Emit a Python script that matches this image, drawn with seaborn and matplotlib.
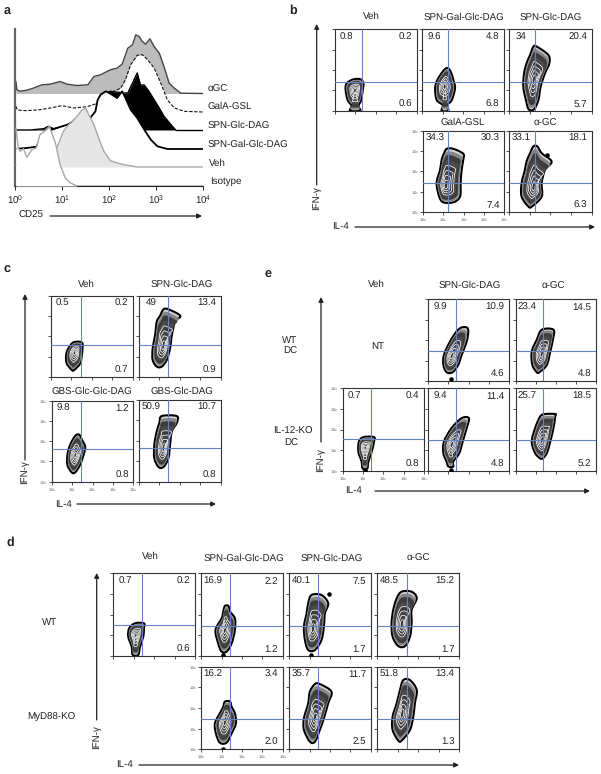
import matplotlib
matplotlib.use("Agg")
import matplotlib.pyplot as plt
from matplotlib.patches import PathPatch
from matplotlib.path import Path
import numpy as np
import seaborn as sns

# panel a histograms: log10 CD25 and height above each curve's own baseline
agc_x = [.02, .04, .11, .25, .39, .57, .75, .96, 1.11, 1.32, 1.55, 1.68, 1.82, 2.03, 2.17, 2.28, 2.40, 2.50,
         2.57, 2.64, 2.71, 2.78, 2.87, 2.96, 3.07, 3.17, 3.28, 3.39, 3.53, 3.99]
agc_y = [12, 3.7, 2.3, 3.3, 5.3, 8.7, 9.3, 12, 9.3, 8, 8.7, 17, 18.7, 23.7, 25.3, 29.3, 45.3, 48.7,
         58.7, 57, 52, 49.3, 54.7, 47, 40.3, 27, 10.3, 5.3, .3, 0]
gala_x = [.02, .05, .25, .53, .75, 1, 1.25, 1.53, 1.73, 1.82, 2.03, 2.25, 2.35, 2.46, 2.60, 2.71, 2.82, 2.96,
          3.10, 3.24, 3.39, 3.6, 3.99]
gala_y = [5.7, 2, 1.3, 2.3, 4, 6.3, 4, 5.3, 8.3, 15.7, 19, 24, 32.3, 47.3, 56.7, 57.3, 52.3, 44,
          29, 12.3, 4, .7, 0]
glc_x = [.04, .32, .61, .71, .82, 1.03, 1.14, 1.32, 1.6, 1.73, 1.85, 2.03, 2.32, 2.4, 2.5, 2.6, 2.67, 2.75,
         2.85, 2.96, 3.07, 3.17, 3.32, 3.42]
glc_y = [0, 0, 1.3, 3.7, 1.3, 3.7, 5.3, 8.7, 7, 18.7, 35.3, 38.7, 37, 37, 47, 57, 45, 45,
         38.7, 30.3, 22, 13.7, 5.3, 0]
galglc_x = [.04, .25, .45, .68, .89, 1.11, 1.32, 1.6, 1.71, 1.76, 1.82, 1.93, 2.03, 2.17, 2.28, 2.35, 2.46, 2.6,
            2.75, 2.89, 3.03, 3.24, 3.99]
galglc_y = [.3, 1, 2.3, 17.7, 21, 24.3, 29.3, 31, 37.7, 49.3, 54.3, 57.7, 55.3, 51, 57.7, 51, 39.3, 31,
            19.3, 9.3, 2.7, 0, 0]
veh_x = [.02, .32, .61, .86, .96, 1.03, 1.14, 1.32, 1.43, 1.5, 1.57, 1.68, 1.78, 1.89, 2.03, 2.25, 2.6, 3.99]
veh_y = [2, 2, 9, 15.7, 27.3, 35.7, 42.3, 50.7, 57.3, 59, 52.3, 42.3, 29, 15.7, 6.3, 3, 0, 0]
iso_x = [.02, .07, .11, .18, .25, .36, .45, .53, .64, .73, .86, .96, 1.07, 1.18, 1.32, 3.99]
iso_y = [58, 38, 34.7, 37.3, 28.7, 36.3, 38, 51.3, 55.3, 59.7, 43, 21.3, 8, 3, 0, 0]
hist_names = ["\u03b1GC", "GalA-GSL", "SPN-Glc-DAG", "SPN-Gal-Glc-DAG", "Veh", "Isotype"]

# contour outlines: (IFN-g decade, left IL-4 decade, right IL-4 decade)
b_veh = ([0, .23, .52, 1.02, 1.34, 1.54], [.74, .82, .62, .52, .57, .9], [1.23, 1.15, 1.28, 1.36, 1.39, 1.26])
b_galglc = ([0, .28, .52, 1.1, 1.51, 1.92, 2.08], [.96, 1.01, .72, .64, .75, 1.01, 1.17], [1.28, 1.24, 1.45, 1.61, 1.53, 1.40, 1.28])
b_glc = ([.07, .52, 1.18, 1.84, 2.33, 2.74, 3.15], [.95, .82, .69, .73, .85, 1.02, 1.18], [1.21, 1.42, 1.53, 1.74, 1.95, 1.90, 1.34])
b_gala = ([.49, .77, 1.43, 2.08, 2.57, 2.87, 3.11], [.99, .79, .66, .83, .91, 1.02, 1.16], [1.49, 1.82, 1.85, 1.90, 1.98, 1.98, 1.49])
b_agc = ([.28, .77, 1.43, 2.08, 2.49, 2.9, 3.23], [.94, .61, .61, .77, .85, 1.02, 1.18], [1.10, 1.58, 1.58, 1.74, 2.06, 1.58, 1.37])
b_peaks = [(.98, 1.0), (1.1, 1.2), (1.2, 1.5), (1.1, 1.3), (1.2, 1.2)]
b_vlines = [1.3, 1.27, 1.27, 1.24, 1.27]
b_hlines = [1.43, 1.43, 1.43, 1.42, 1.42]
b_pcts = [("0.8", "0.2", "0.6"), ("9.6", "4.8", "6.8"), ("34", "20.4", "5.7"), ("34.3", "30.3", "7.4"), ("33.1", "18.1", "6.3")]

c_veh = ([.33, .66, 1.07, 1.40, 1.70], [1.02, .77, .74, .85, 1.10], [1.13, 1.43, 1.51, 1.54, 1.51])
c_glc = ([.5, .83, 1.40, 2.07, 2.73, 3.02, 3.34], [.87, .67, .67, .79, .87, 1.03, 1.20], [1.11, 1.36, 1.52, 1.61, 1.77, 2.02, 1.44])
c_gbs2 = ([.46, .83, 1.32, 1.73, 2.07, 2.31], [.98, .77, .77, .87, 1.03, 1.2], [1.15, 1.39, 1.56, 1.64, 1.48, 1.36])
c_gbs1 = ([.72, 1.15, 1.8, 2.46, 2.87, 3.2], [.95, .75, .75, .87, 1.0, 1.11], [1.2, 1.44, 1.52, 1.61, 1.85, 1.85])
c_peaks = [(1.15, 1.2), (1.2, 1.5), (1.15, 1.3), (1.2, 1.6)]
c_vlines = [1.46, 1.41, 1.44, 1.41]
c_hlines = [1.59, 1.55, 1.6, 1.64]
c_pcts = [("0.5", "0.2", "0.7"), ("49", "13.4", "0.9"), ("9.8", "1.2", "0.8"), ("50.9", "10.7", "0.8")]

e_glc_wt = ([.43, .79, 1.28, 1.93, 2.43, 2.62], [.91, .75, .78, 1.08, 1.41, 1.66], [1.21, 1.49, 1.66, 1.91, 1.99, 1.91])
e_agc_wt = ([.43, .79, 1.44, 2.02, 2.51], [1.05, .83, .8, 1.05, 1.3], [1.18, 1.55, 1.72, 1.85, 1.88])
e_veh_ko = ([.11, .44, .93, 1.41, 1.63], [.98, .93, .77, .8, 1.02], [1.21, 1.26, 1.43, 1.54, 1.54])
e_glc_ko = ([.2, .44, .85, 1.41, 2.07, 2.55], [1, .91, .75, .78, 1.16, 1.66], [1.24, 1.24, 1.54, 1.71, 1.91, 2.02])
e_agc_ko = ([.6, .85, 1.41, 2.07, 2.63, 2.75], [1.22, .97, .8, .97, 1.22, 1.47], [1.35, 1.55, 1.72, 1.88, 1.97, 1.97])
e_peaks = [(1.15, 1.2), (1.3, 1.3), (1.1, 1.1), (1.15, 1.25), (1.3, 1.45)]
e_vlines = [1.38, 1.38, 1.38, 1.38, 1.38]
e_hlines = [1.46, 1.46, 1.54, 1.5, 1.5]
e_pcts = [("9.9", "10.9", "4.6"), ("23.4", "14.5", "4.8"), ("0.7", "0.4", "0.8"), ("9.4", "11.4", "4.8"), ("25.7", "18.5", "5.2")]

d_veh = ([.05, .45, .94, 1.34, 1.58], [.95, .9, .73, .78, 1.06], [1.22, 1.31, 1.47, 1.5, 1.5])
d_gal_wt = ([.21, .61, 1.26, 1.82, 2.15, 2.42], [1.0, .83, .7, 1.0, 1.08, 1.16], [1.24, 1.49, 1.65, 1.65, 1.41, 1.33])
d_glc_wt = ([.29, .77, 1.42, 2.06, 2.55, 2.95], [.93, .77, .72, .85, .93, 1.09], [1.26, 1.58, 1.7, 1.75, 1.91, 1.58])
d_agc_wt = ([.48, .94, 1.58, 2.23, 2.79, 3.11], [1.03, .75, .7, .78, .95, 1.19], [1.36, 1.6, 1.68, 1.68, 1.93, 1.68])
d_gal_ko = ([.32, .77, 1.26, 1.74, 2.06, 2.31], [.91, .72, .67, .91, 1.08, 1.16], [1.24, 1.49, 1.7, 1.65, 1.49, 1.41])
d_glc_ko = ([.37, .94, 1.5, 2.23, 2.79, 3.16], [1.01, .72, .72, .93, 1.01, 1.26], [1.26, 1.5, 1.7, 1.91, 2.07, 1.5])
d_agc_ko = ([.42, .94, 1.58, 2.23, 2.87, 3.35], [1.03, .75, .75, .95, 1.11, 1.27], [1.19, 1.6, 1.76, 1.84, 1.93, 1.6])
d_peaks = [(1.1, 1.0), (1.15, 1.25), (1.15, 1.3), (1.2, 1.5), (1.15, 1.3), (1.25, 1.5), (1.2, 1.7)]
d_vlines = [1.42, 1.42, 1.42, 1.44, 1.42, 1.42, 1.44]
d_hlines = [1.48, 1.44, 1.44, 1.44, 1.45, 1.48, 1.48]
d_pcts = [("0.7", "0.2", "0.6"), ("16.9", "2.2", "1.2"), ("40.1", "7.5", "1.7"), ("48.5", "15.2", "1.7"),
          ("16.2", "3.4", "2.0"), ("35.7", "11.7", "2.5"), ("51.8", "13.4", "1.3")]

W, H = 601, 774
RING_SCALES = [1, .92, .82, .68, .54, .41, .28, .15]
RING_FACES = ["#d8d8d8", "#868686", "#3c3c3c", "#4a4a4a", "#3a3a3a", "#444444", "#444444", "#333333"]
QUAD_BLUE = "#6580c4"

sns.set_theme(style="ticks")
plt.rcParams["font.family"] = ["Liberation Sans", "DejaVu Sans"]
plt.rcParams["mathtext.default"] = "regular"
plt.rcParams["text.hinting"] = "none"

fig = plt.figure(figsize=(W / 100, H / 100), dpi=100)
bg = fig.add_axes([0, 0, 1, 1])
bg.set_xlim(0, W)
bg.set_ylim(H, 0)
bg.axis("off")


def px_axes(x0, y0, x1, y1):
    return fig.add_axes([x0 / W, 1 - y1 / H, (x1 - x0) / W, (y1 - y0) / H])


def label(x, y, s, size=7, **kw):
    kw.setdefault("ha", "center")
    bg.text(x, y, s, fontsize=size, va="center", color="#222222", **kw)


def arrow(x0, y0, x1, y1):
    bg.annotate("", xy=(x1, y1), xytext=(x0, y0),
                arrowprops=dict(arrowstyle="-|>", color="#222222", lw=0.9, mutation_scale=7, shrinkA=0, shrinkB=0))


def smooth_outline(xs, ys):
    # closed bezier through the outline, so the rings do not look like polygons
    pts = np.column_stack([xs, ys])
    n = len(pts)
    verts = [pts[0]]
    codes = [Path.MOVETO]
    for i in range(n):
        p0, p1, p2, p3 = pts[i - 1], pts[i], pts[(i + 1) % n], pts[(i + 2) % n]
        verts += [p1 + (p2 - p0) / 6, p2 - (p3 - p1) / 6, p2]
        codes += [Path.CURVE4] * 3
    return Path(verts, codes)


def flow_plot(box, shape, peak, vline, hline, pcts, tick_labels=False, dots=()):
    ax = px_axes(*box)
    ys, lefts, rights = [np.array(v) for v in shape]
    xs = np.r_[lefts, rights[::-1]]
    yy = np.r_[ys, ys[::-1]]
    for i, (scale, face) in enumerate(zip(RING_SCALES, RING_FACES)):
        edge = "black" if i == 0 else ("white" if i > 3 else "none")
        path = smooth_outline(peak[0] + scale * (xs - peak[0]), peak[1] + scale * (yy - peak[1]))
        ax.add_patch(PathPatch(path, facecolor=face, edgecolor=edge, linewidth=1.5 if i == 0 else 0.55,
                               joinstyle="round", zorder=2 + i * 0.01))
    if dots:
        ax.scatter(*zip(*dots), color="black", s=5, zorder=3)
    ax.axvline(vline, color=QUAD_BLUE, linewidth=0.8, zorder=4)
    ax.axhline(hline, color=QUAD_BLUE, linewidth=0.8, zorder=4)
    ax.text(.58, 3.62, pcts[0], fontsize=7, ha="center", va="center", color="#222222")
    ax.text(3.78, 3.62, pcts[1], fontsize=7, ha="right", va="center", color="#222222")
    ax.text(3.78, .33, pcts[2], fontsize=7, ha="right", va="center", color="#222222")
    ax.set_xlim(0, 4)
    ax.set_ylim(0, 4)
    ax.set_xticks(range(5))
    ax.set_yticks(range(5))
    if tick_labels:
        ticks = [f"$10^{i}$" for i in range(5)]
        ax.set_xticklabels(ticks, fontsize=3, color="#555555")
        ax.set_yticklabels(ticks, fontsize=3, color="#555555")
    else:
        ax.set_xticklabels([])
        ax.set_yticklabels([])
    ax.tick_params(length=2, width=0.6, pad=1, color="#333333")
    for spine in ax.spines.values():
        spine.set_linewidth(0.8)
        spine.set_color("#333333")
    return ax


# panel a
ax = px_axes(15, 29, 203, 186)
ax.set_xscale("log")
offsets = [92.5, 74, 56, 37, 19, 0]
series = [(agc_x, agc_y, "#bcbcbc", "#444444", "-", 1.0),
          (gala_x, gala_y, "white", "#111111", (0, (3, 1.5)), 0.8),
          (glc_x, glc_y, "black", "black", "-", 1.0),
          (galglc_x, galglc_y, "white", "black", "-", 1.3),
          (veh_x, veh_y, "#e6e6e6", "#a8a8a8", "-", 1.0),
          (iso_x, iso_y, "white", "#a8a8a8", "-", 1.0)]
for i, (hx, hy, face, line, dash, lw) in enumerate(series):
    cd25 = np.power(10.0, hx)
    top = np.array(hy) + offsets[i]
    ax.fill_between(cd25, offsets[i], top, color=face, linewidth=0, zorder=2 + i)
    sns.lineplot(x=cd25, y=top, sort=False, estimator=None, color=line, linestyle=dash, linewidth=lw, ax=ax, zorder=2.5 + i)
    sns.lineplot(x=[cd25[-1], 1e4], y=[offsets[i], offsets[i]], color=line, linewidth=lw, ax=ax, zorder=2.5 + i)
ax.set_xlim(1, 1e4)
ax.set_ylim(0, 157)
ax.set_yticks([])
ax.set_xticks([1, 10, 100, 1000, 10000])
ax.set_xticklabels([f"$10^{i}$" for i in range(5)], fontsize=7, color="#222222")
ax.tick_params(axis="x", which="major", length=3, width=0.7, pad=2)
ax.tick_params(axis="x", which="minor", length=1.5, width=0.5)
ax.set_xlabel("")
ax.set_ylabel("")
sns.despine(ax=ax)
ax.spines["left"].set_linewidth(1.6)
ax.spines["left"].set_color("#666666")
ax.spines["bottom"].set_linewidth(0.8)
for name, y, x in zip(hist_names, [89, 106.7, 125.3, 144.7, 163, 181.3], [208, 208, 208, 208, 209, 210]):
    label(x, y, name, ha="left")
label(31, 215, "CD25")
arrow(50, 216, 202, 216)

# panel b
b_boxes = [(335, 29.3, 416.7, 110.7), (422, 29.3, 504, 110.7), (509, 29.3, 591.7, 110.7),
           (423.3, 130.7, 504, 212.3), (509, 130.7, 591.7, 212.3)]
b_shapes = [b_veh, b_galglc, b_glc, b_gala, b_agc]
for i in range(5):
    flow_plot(b_boxes[i], b_shapes[i], b_peaks[i], b_vlines[i], b_hlines[i], b_pcts[i],
              tick_labels=i == 3, dots=[(1.82, 2.79)] if i == 4 else ())
for x, y, s in [(371, 16.7, "Veh"), (464, 17, "SPN-Gal-Glc-DAG"), (550.7, 17, "SPN-Glc-DAG"),
                (463, 122, "GalA-GSL"), (545.7, 123, "\u03b1-GC")]:
    label(x, y, s)
arrow(316.7, 185, 316.7, 24)
label(316.7, 198, "IFN-\u03b3", rotation=90)
label(340, 226.7, "IL-4")
arrow(355, 227, 595, 227)

# panel c
c_boxes = [(51, 296, 132.7, 376.7), (139, 296, 220.7, 376.7),
           (51.7, 400.7, 133.3, 481.7), (139, 399.7, 220.7, 481.7)]
c_shapes = [c_veh, c_glc, c_gbs2, c_gbs1]
for i in range(4):
    flow_plot(c_boxes[i], c_shapes[i], c_peaks[i], c_vlines[i], c_hlines[i], c_pcts[i], tick_labels=i == 2)
for x, y, s in [(86.7, 284, "Veh"), (181.7, 284, "SPN-Glc-DAG"), (92, 391.7, "GBS-Glc-Glc-DAG"), (181.7, 391, "GBS-Glc-DAG")]:
    label(x, y, s)
arrow(25, 460, 25, 294)
label(24, 472, "IFN-\u03b3", rotation=90)
label(63, 504, "IL-4")
arrow(77, 504, 216, 504)

# panel e
e_boxes = [(428.3, 299.3, 508.7, 381), (515.7, 299.3, 596, 381), (342.7, 388.3, 424, 470.7),
           (428.3, 388.3, 508.7, 470.7), (515.7, 388.3, 596, 470.7)]
e_shapes = [e_glc_wt, e_agc_wt, e_veh_ko, e_glc_ko, e_agc_ko]
e_dots = [[(1.12, .1)], [], [(1.1, .05)], [(1.12, .05)], []]
for i in range(5):
    flow_plot(e_boxes[i], e_shapes[i], e_peaks[i], e_vlines[i], e_hlines[i], e_pcts[i],
              tick_labels=i == 2, dots=e_dots[i])
for x, y, s in [(376.7, 284, "Veh"), (469.3, 285, "SPN-Glc-DAG"), (553, 286, "\u03b1-GC"), (290, 340, "WT"), (290, 351.7, "DC"),
                (377.7, 346, "NT"), (293.3, 431.7, "IL-12-KO"), (291, 443.7, "DC")]:
    label(x, y, s)
arrow(321, 442, 321, 297)
label(320, 460, "IFN-\u03b3", rotation=90)
label(353, 490, "IL-4")
arrow(375, 491, 590, 491)

# panel d
d_boxes = [(113.3, 573.3, 195, 656), (201.3, 573.3, 282.7, 656), (289.3, 573.3, 370.7, 656), (377.3, 573.3, 459, 656),
           (201.3, 666.7, 282.7, 749.3), (289.3, 666.7, 370.7, 749.3), (377.3, 666.7, 459, 749.3)]
d_shapes = [d_veh, d_gal_wt, d_glc_wt, d_agc_wt, d_gal_ko, d_glc_ko, d_agc_ko]
d_dots = [[], [(1.05, .05)], [(1.09, .03), (1.93, 3.0)], [], [(1.05, .03)], [], []]
for i in range(7):
    flow_plot(d_boxes[i], d_shapes[i], d_peaks[i], d_vlines[i], d_hlines[i], d_pcts[i],
              tick_labels=i == 4, dots=d_dots[i])
for x, y, s in [(150, 556.7, "Veh"), (244, 558, "SPN-Gal-Glc-DAG"), (331.7, 558, "SPN-Glc-DAG"), (418, 558, "\u03b1-GC"),
                (49.3, 622, "WT"), (51.7, 717.7, "MyD88-KO")]:
    label(x, y, s)
arrow(96.7, 720, 96.7, 573)
label(96, 737, "IFN-\u03b3", rotation=90)
label(124, 764, "IL-4")
arrow(139, 765, 459, 765)

for x, y, s in [(7.5, 10.7, "a"), (292.7, 11, "b"), (7, 269, "c"), (268, 274, "e"), (10, 543, "d")]:
    label(x, y, s, size=9, fontweight="bold")

fig.savefig("out.png", dpi=100)
